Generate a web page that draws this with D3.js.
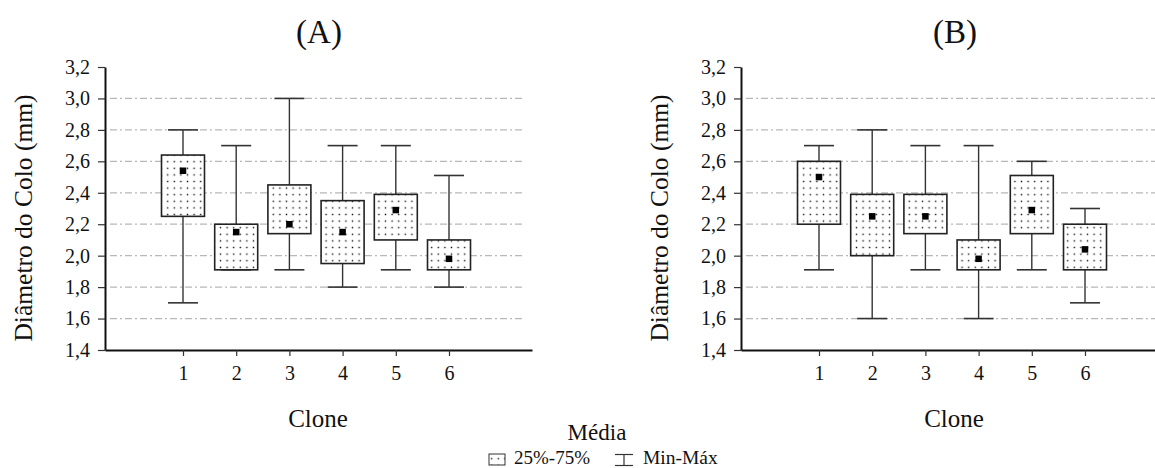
<!DOCTYPE html>
<html>
<head>
<meta charset="utf-8">
<script src="https://cdn.jsdelivr.net/npm/d3@7/dist/d3.min.js"></script>
<style>
html,body{margin:0;padding:0;background:#fff;}
svg{display:block;}
svg text{font-family:"Liberation Serif","Times New Roman",Times,serif !important;}
</style>
</head>
<body>
<svg id="chart" width="1155" height="468"></svg>
<script>
// ---- data ----
const clones = [1, 2, 3, 4, 5, 6];
const yTicks = [1.4, 1.6, 1.8, 2.0, 2.2, 2.4, 2.6, 2.8, 3.0, 3.2];
const gridValues = [1.6, 1.8, 2.0, 2.2, 2.4, 2.6, 2.8, 3.0];

// Panel A
const aMin  = [1.70, 1.91, 1.91, 1.80, 1.91, 1.80];
const aQ1   = [2.25, 1.91, 2.14, 1.95, 2.10, 1.91];
const aQ3   = [2.64, 2.20, 2.45, 2.35, 2.39, 2.10];
const aMax  = [2.80, 2.70, 3.00, 2.70, 2.70, 2.51];
const aMean = [2.54, 2.15, 2.20, 2.15, 2.29, 1.98];

// Panel B
const bMin  = [1.91, 1.60, 1.91, 1.60, 1.91, 1.70];
const bQ1   = [2.20, 2.00, 2.14, 1.91, 2.14, 1.91];
const bQ3   = [2.60, 2.39, 2.39, 2.10, 2.51, 2.20];
const bMax  = [2.70, 2.80, 2.70, 2.70, 2.60, 2.30];
const bMean = [2.50, 2.25, 2.25, 1.98, 2.29, 2.04];

const panelTitles = ["(A)", "(B)"];
const yLabel = "Diâmetro do Colo (mm)";
const xLabel = "Clone";
const legendTitle = "Média";
const legendItems = ["25%-75%", "Min-Máx"];

// ---- drawing ----
const svg = d3.select("#chart");
const fmt = v => d3.format(".1f")(v).replace(".", ",");

const defs = svg.append("defs");
const pat = defs.append("pattern")
  .attr("id", "dots").attr("patternUnits", "userSpaceOnUse")
  .attr("width", 6.6).attr("height", 6.6);
pat.append("rect").attr("width", 6.6).attr("height", 6.6).attr("fill", "#fff");
pat.append("rect").attr("x", 2.6).attr("y", 2.6).attr("width", 1.4).attr("height", 1.4).attr("fill", "#111");

const panels = [
  {x0: 105, min: aMin, q1: aQ1, q3: aQ3, max: aMax, mean: aMean, title: panelTitles[0]},
  {x0: 741, min: bMin, q1: bQ1, q3: bQ3, max: bMax, mean: bMean, title: panelTitles[1]}
];

const y = d3.scaleLinear().domain([1.4, 3.2]).range([350, 67]);
const x = d3.scaleLinear().domain([-0.466, 7.56]).range([0, 427]);
const boxW = 43, capW = 30, meanS = 6.5;

panels.forEach(p => {
  const g = svg.append("g").attr("transform", `translate(${p.x0},0)`);

  // gridlines
  g.append("g").selectAll("line").data(gridValues).join("line")
    .attr("x1", 5).attr("x2", 418)
    .attr("y1", d => y(d)).attr("y2", d => y(d))
    .attr("stroke", "#b8b8b8").attr("stroke-width", 1.2)
    .attr("stroke-dasharray", "7,3,2,3");

  // boxes
  clones.forEach((c, i) => {
    const cx = x(c);
    const gg = g.append("g");
    gg.append("line").attr("x1", cx).attr("x2", cx)
      .attr("y1", y(p.max[i])).attr("y2", y(p.min[i]))
      .attr("stroke", "#333").attr("stroke-width", 1.4);
    gg.append("line").attr("x1", cx - capW/2).attr("x2", cx + capW/2)
      .attr("y1", y(p.max[i])).attr("y2", y(p.max[i]))
      .attr("stroke", "#333").attr("stroke-width", 1.6);
    gg.append("line").attr("x1", cx - capW/2).attr("x2", cx + capW/2)
      .attr("y1", y(p.min[i])).attr("y2", y(p.min[i]))
      .attr("stroke", "#333").attr("stroke-width", 1.6);
    gg.append("rect").attr("x", cx - boxW/2).attr("y", y(p.q3[i]))
      .attr("width", boxW).attr("height", y(p.q1[i]) - y(p.q3[i]))
      .attr("fill", "url(#dots)").attr("stroke", "#222").attr("stroke-width", 1.6);
    gg.append("rect").attr("x", cx - meanS/2).attr("y", y(p.mean[i]) - meanS/2)
      .attr("width", meanS).attr("height", meanS).attr("fill", "#000");
  });

  // y axis
  const ya = g.append("g").call(d3.axisLeft(y).tickValues(yTicks).tickFormat(fmt)
      .tickSize(7).tickSizeOuter(0).tickPadding(8));
  ya.select(".domain").attr("stroke", "#111").attr("stroke-width", 2);
  ya.selectAll(".tick line").attr("stroke", "#333").attr("stroke-width", 1.2);
  ya.selectAll("text").attr("font-size", 20).attr("fill", "#111");

  // x axis
  const xa = g.append("g").attr("transform", "translate(0,350)")
    .call(d3.axisBottom(x).tickValues(clones).tickFormat(d3.format("d"))
      .tickSize(6).tickSizeOuter(0).tickPadding(10));
  xa.select(".domain").attr("stroke", "#111").attr("stroke-width", 2);
  xa.selectAll(".tick line").attr("stroke", "#333").attr("stroke-width", 1.2);
  xa.selectAll("text").attr("font-size", 20).attr("fill", "#111");

  // titles and labels
  g.append("text").attr("x", 214).attr("y", 43).attr("text-anchor", "middle")
    .attr("font-size", 33).attr("fill", "#111").text(p.title);
  g.append("text").attr("x", 213).attr("y", 427).attr("text-anchor", "middle")
    .attr("font-size", 25).attr("fill", "#111").text(xLabel);
  g.append("text").attr("transform", `translate(${-82},218) rotate(-90)`)
    .attr("text-anchor", "middle").attr("dominant-baseline", "central")
    .attr("font-size", 25.5).attr("fill", "#111").text(yLabel);
});

// legend
const lg = svg.append("g");
lg.append("text").attr("x", 597).attr("y", 440).attr("text-anchor", "middle")
  .attr("font-size", 23).attr("fill", "#111").text(legendTitle);
lg.append("rect").attr("x", 489).attr("y", 454).attr("width", 16).attr("height", 11)
  .attr("fill", "url(#dots)").attr("stroke", "#333").attr("stroke-width", 1);
lg.append("text").attr("x", 514).attr("y", 464).attr("font-size", 19).attr("fill", "#111").text(legendItems[0]);
lg.append("line").attr("x1", 615).attr("x2", 633).attr("y1", 454.5).attr("y2", 454.5).attr("stroke", "#333").attr("stroke-width", 1.2);
lg.append("line").attr("x1", 615).attr("x2", 633).attr("y1", 465.5).attr("y2", 465.5).attr("stroke", "#333").attr("stroke-width", 1.2);
lg.append("line").attr("x1", 624).attr("x2", 624).attr("y1", 454.5).attr("y2", 465.5).attr("stroke", "#333").attr("stroke-width", 1.2);
lg.append("text").attr("x", 643).attr("y", 464).attr("font-size", 19.5).attr("fill", "#111").text(legendItems[1]);
</script>
</body>
</html>
